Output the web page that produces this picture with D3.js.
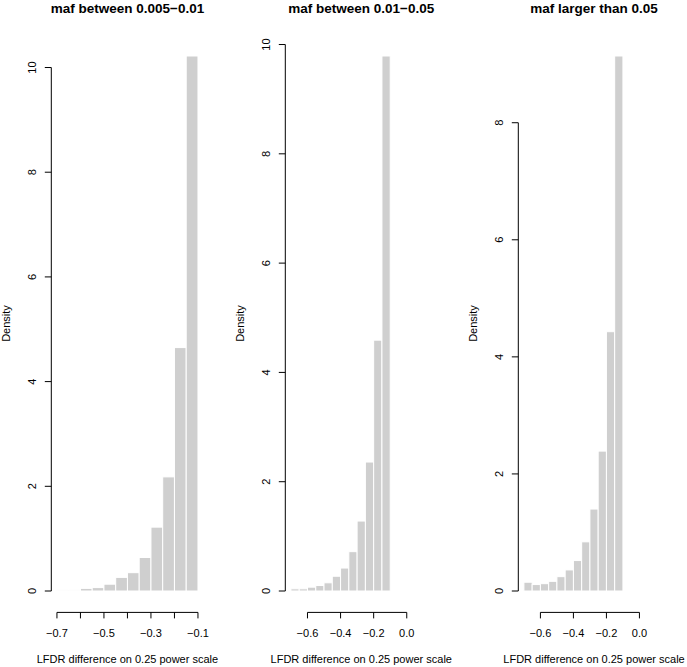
<!DOCTYPE html>
<html>
<head>
<meta charset="utf-8">
<script src="https://cdn.jsdelivr.net/npm/d3@7"></script>
<style>
  html, body { margin: 0; padding: 0; background: #fff; }
  svg { display: block; font-family: "Liberation Sans", Arial, Helvetica, sans-serif; }
</style>
</head>
<body>
<svg id="chart" width="687" height="667"></svg>
<script>
// ---- data ----
const titles = ["maf between 0.005\u22120.01", "maf between 0.01\u22120.05", "maf larger than 0.05"];
const breaks = [-0.7, -0.65, -0.6, -0.55, -0.5, -0.45, -0.4, -0.35, -0.3, -0.25, -0.2, -0.15, -0.1];
const density1 = [0.02, 0.02, 0.05, 0.065, 0.13, 0.26, 0.35, 0.64, 1.22, 2.18, 4.65, 10.22];
const density2 = [0.04, 0.04, 0.07, 0.10, 0.15, 0.27, 0.42, 0.72, 1.28, 2.36, 4.59, 9.79];
const density3 = [0.15, 0.11, 0.125, 0.165, 0.245, 0.36, 0.52, 0.84, 1.40, 2.39, 4.43, 9.14];
const xlim1 = [-0.7, -0.1];
const xlim2 = [-0.7, 0.15];
const xlim3 = [-0.7, 0.15];
const xTicks1 = [-0.7, -0.6, -0.5, -0.4, -0.3, -0.2, -0.1];
const xTickLabels1 = [-0.7, -0.5, -0.3, -0.1];
const xTicks2 = [-0.6, -0.4, -0.2, 0.0];
const xTicks3 = [-0.6, -0.4, -0.2, 0.0];
const yTicks1 = [0, 2, 4, 6, 8, 10];
const yTicks2 = [0, 2, 4, 6, 8, 10];
const yTicks3 = [0, 2, 4, 6, 8];
const xLabel = "LFDR difference on 0.25 power scale";
const yLabel = "Density";

// ---- layout ----
const plotTop = 34.6, plotBottom = 612.4;
const panels = [
  { title: titles[0], dens: density1, xlim: xlim1, xticks: xTicks1, xlabels: xTickLabels1, yticks: yTicks1, left: 51.3, right: 203.6 },
  { title: titles[1], dens: density2, xlim: xlim2, xticks: xTicks2, xlabels: xTicks2, yticks: yTicks2, left: 285.3, right: 437.2 },
  { title: titles[2], dens: density3, xlim: xlim3, xticks: xTicks3, xlabels: xTicks3, yticks: yTicks3, left: 518.3, right: 669.8 }
];

const svg = d3.select("#chart");
const fmt = v => {
  const s = d3.format(".1f")(Math.abs(v) < 1e-9 ? 0 : v);
  return s.replace("-", "\u2212");
};

panels.forEach(p => {
  const r = p.xlim[1] - p.xlim[0];
  const x = d3.scaleLinear()
    .domain([p.xlim[0] - 0.04 * r, p.xlim[1] + 0.04 * r])
    .range([p.left, p.right]);
  const ymax = d3.max(p.dens);
  const y = d3.scaleLinear()
    .domain([-0.04 * ymax, 1.04 * ymax])
    .range([plotBottom, plotTop]);

  const g = svg.append("g");
  const bins = p.dens.map((d, i) => ({ x0: breaks[i], x1: breaks[i + 1], d }));

  g.selectAll("rect.bar").data(bins).enter().append("rect")
    .attr("class", "bar")
    .attr("x", b => x(b.x0))
    .attr("width", b => x(b.x1) - x(b.x0))
    .attr("y", b => y(b.d))
    .attr("height", b => y(0) - y(b.d))
    .attr("fill", "#cfcfcf")
    .attr("stroke", "#ffffff")
    .attr("stroke-width", 1);

  // x axis
  const xa = g.append("g").attr("transform", `translate(0,${plotBottom})`);
  xa.append("line")
    .attr("x1", x(d3.min(p.xticks))).attr("x2", x(d3.max(p.xticks)))
    .attr("y1", 0).attr("y2", 0)
    .attr("stroke", "#000").attr("stroke-width", 1);
  xa.selectAll("line.tick").data(p.xticks).enter().append("line")
    .attr("class", "tick")
    .attr("x1", d => x(d)).attr("x2", d => x(d))
    .attr("y1", 0).attr("y2", 6)
    .attr("stroke", "#000").attr("stroke-width", 1);
  xa.selectAll("text").data(p.xlabels).enter().append("text")
    .attr("x", d => x(d)).attr("y", 24.3)
    .attr("text-anchor", "middle")
    .attr("font-size", 11).attr("fill", "#000")
    .text(d => fmt(d));

  // y axis
  const ya = g.append("g").attr("transform", `translate(${p.left},0)`);
  ya.append("line")
    .attr("x1", 0).attr("x2", 0)
    .attr("y1", y(d3.min(p.yticks))).attr("y2", y(d3.max(p.yticks)))
    .attr("stroke", "#000").attr("stroke-width", 1);
  ya.selectAll("line.tick").data(p.yticks).enter().append("line")
    .attr("class", "tick")
    .attr("x1", -6.5).attr("x2", 0)
    .attr("y1", d => y(d)).attr("y2", d => y(d))
    .attr("stroke", "#000").attr("stroke-width", 1);
  ya.selectAll("text").data(p.yticks).enter().append("text")
    .attr("transform", d => `translate(-15,${y(d)}) rotate(-90)`)
    .attr("text-anchor", "middle")
    .attr("font-size", 11).attr("fill", "#000")
    .text(d => d);

  // y label
  g.append("text")
    .attr("transform", `translate(${p.left - 41},${(plotTop + plotBottom) / 2}) rotate(-90)`)
    .attr("text-anchor", "middle")
    .attr("font-size", 11).attr("fill", "#000")
    .text(yLabel);

  // x label
  g.append("text")
    .attr("x", (p.left + p.right) / 2).attr("y", 662.5)
    .attr("text-anchor", "middle")
    .attr("font-size", 11).attr("fill", "#000")
    .text(xLabel);

  // title
  g.append("text")
    .attr("x", (p.left + p.right) / 2).attr("y", 12.5)
    .attr("text-anchor", "middle")
    .attr("font-size", 13.5).attr("font-weight", "bold").attr("fill", "#000")
    .text(p.title);
});
</script>
</body>
</html>
